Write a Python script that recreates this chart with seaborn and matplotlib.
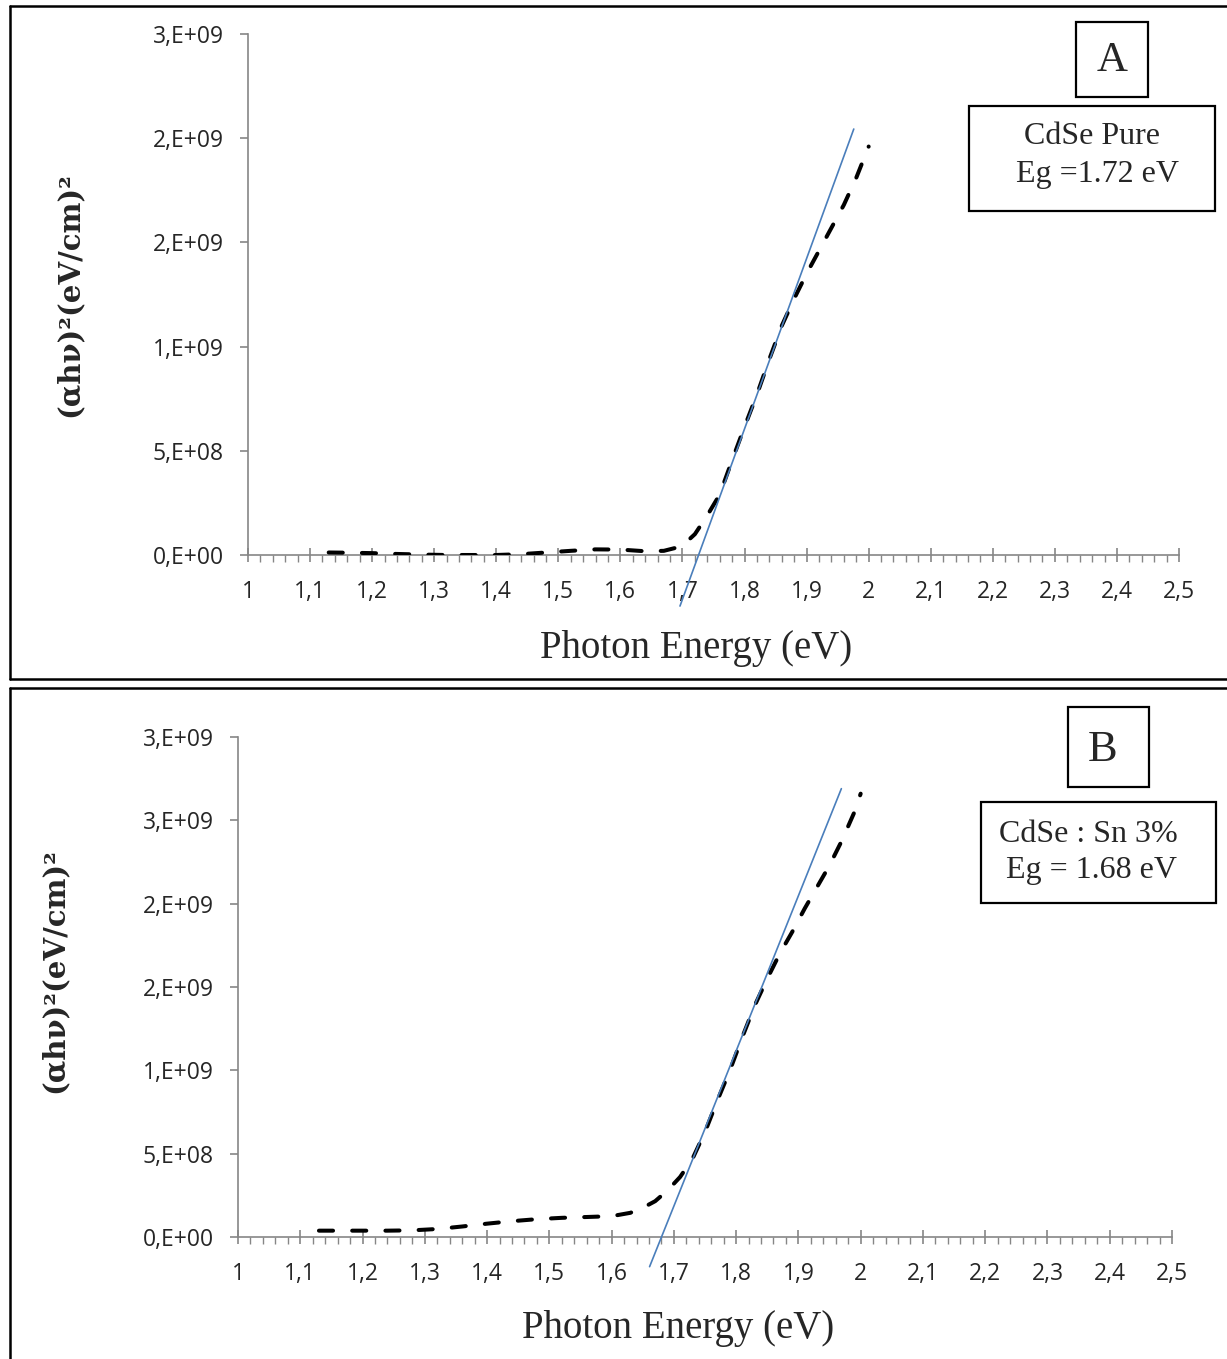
import matplotlib
matplotlib.use("Agg")
import matplotlib.pyplot as plt
import seaborn as sns
from matplotlib.lines import Line2D
from matplotlib.patches import Rectangle
from matplotlib.ticker import MultipleLocator

sns.set_style("ticks")
plt.rcParams['font.family'] = ['Open Sans', 'DejaVu Sans']

# --- data ---
# panel A : CdSe pure
energy_a = [1.13, 1.16, 1.20, 1.24, 1.28, 1.32, 1.36, 1.40, 1.44, 1.48, 1.52,
            1.56, 1.60, 1.64, 1.67, 1.69, 1.70, 1.72, 1.74, 1.76, 1.78, 1.80,
            1.82, 1.84, 1.86, 1.88, 1.90, 1.92, 1.94, 1.96, 1.98, 2.00]
absorb_a = [0.012, 0.011, 0.009, 0.005, 0.002, 0.0, 0.0, 0.0, 0.004, 0.012, 0.020,
            0.027, 0.026, 0.018, 0.020, 0.035, 0.045, 0.10, 0.19, 0.29, 0.455, 0.615,
            0.77, 0.94, 1.10, 1.23, 1.35, 1.46, 1.57, 1.68, 1.81, 1.96]
fit_x_a = [1.696, 1.976]
fit_y_a = [-0.245, 2.044]

# panel B : CdSe:Sn 3%
energy_b = [1.13, 1.16, 1.20, 1.24, 1.28, 1.32, 1.36, 1.40, 1.44, 1.48, 1.52,
            1.56, 1.60, 1.63, 1.65, 1.67, 1.69, 1.71, 1.73, 1.75, 1.77, 1.79,
            1.81, 1.83, 1.85, 1.87, 1.89, 1.91, 1.93, 1.95, 1.97, 1.99, 2.00]
absorb_b = [0.038, 0.038, 0.038, 0.038, 0.040, 0.048, 0.063, 0.080, 0.095, 0.107, 0.115,
            0.120, 0.125, 0.145, 0.175, 0.215, 0.28, 0.36, 0.47, 0.63, 0.82, 1.00,
            1.20, 1.39, 1.55, 1.70, 1.83, 1.97, 2.10, 2.23, 2.38, 2.55, 2.66]
fit_x_b = [1.661, 1.969]
fit_y_b = [-0.178, 2.69]

scale = 1e9  # values above are in units of 1e9

x_ticks = [1.0, 1.1, 1.2, 1.3, 1.4, 1.5, 1.6, 1.7, 1.8, 1.9, 2.0, 2.1, 2.2, 2.3, 2.4, 2.5]
x_labels = ['1', '1,1', '1,2', '1,3', '1,4', '1,5', '1,6', '1,7', '1,8', '1,9',
            '2', '2,1', '2,2', '2,3', '2,4', '2,5']
y_ticks_a = [0, 5e8, 1e9, 1.5e9, 2e9, 2.5e9]
y_labels_a = ['0,E+00', '5,E+08', '1,E+09', '2,E+09', '2,E+09', '3,E+09']
y_ticks_b = [0, 5e8, 1e9, 1.5e9, 2e9, 2.5e9, 3e9]
y_labels_b = ['0,E+00', '5,E+08', '1,E+09', '2,E+09', '2,E+09', '3,E+09', '3,E+09']

W, H = 1227, 1359
fig = plt.figure(figsize=(W / 100, H / 100), dpi=100)
fig.patch.set_facecolor('white')


def fx(px):
    return px / W


def fy(py):
    return 1 - py / H


SERIF = ['Liberation Serif', 'DejaVu Serif']
AXIS_GREY = '#868686'


def style_axis(ax, yticks, ylabels, ymax):
    ax.set_xlim(1, 2.5)
    ax.set_ylim(0, ymax)
    ax.set_xticks(x_ticks, x_labels)
    ax.xaxis.set_minor_locator(MultipleLocator(0.02))
    ax.set_yticks(yticks, ylabels)
    for s in ['top', 'right']:
        ax.spines[s].set_visible(False)
    for s in ['left', 'bottom']:
        ax.spines[s].set_color(AXIS_GREY)
        ax.spines[s].set_linewidth(1.2)
    ax.tick_params(axis='x', which='major', direction='inout', length=10, width=1.2,
                   color=AXIS_GREY, labelsize=16.5, pad=13)
    ax.tick_params(axis='x', which='minor', direction='out', length=5, width=1.0,
                   color=AXIS_GREY)
    ax.tick_params(axis='y', which='major', direction='out', length=6, width=1.2,
                   color=AXIS_GREY, labelsize=16.5, pad=11.5)
    ax.set_facecolor('white')


def draw_panel(ax, ex, ey, fx_, fy_):
    sns.lineplot(x=ex, y=[v * scale for v in ey], ax=ax, color='black', linewidth=2.9,
                 linestyle=(0, (3.5, 4.75)), dash_capstyle='round', sort=False,
                 errorbar=None, zorder=3)
    sns.lineplot(x=fx_, y=[v * scale for v in fy_], ax=ax, color='#4a7ebb', linewidth=1.2,
                 sort=False, errorbar=None, clip_on=False, zorder=4)


# panel A
axA = fig.add_axes([fx(248), fy(555), (1179 - 248) / W, (555 - 34) / H])
draw_panel(axA, energy_a, absorb_a, fit_x_a, fit_y_a)
style_axis(axA, y_ticks_a, y_labels_a, 2.5e9)
axA.set_xlabel('Photon Energy (eV)', family=SERIF, fontsize=28, va='baseline')
axA.xaxis.set_label_coords((696.5 - 248) / 931, (555 - 658) / 521)
axA.set_ylabel('(αhν)²(eV/cm)²', family=['DejaVu Serif'], fontweight='bold',
               fontsize=21, va='center')
axA.yaxis.set_label_coords((69 - 248) / 931, 0.5)

# panel B
axB = fig.add_axes([fx(238), fy(1237), (1172 - 238) / W, (1237 - 737) / H])
draw_panel(axB, energy_b, absorb_b, fit_x_b, fit_y_b)
style_axis(axB, y_ticks_b, y_labels_b, 3e9)
axB.set_xlabel('Photon Energy (eV)', family=SERIF, fontsize=28, va='baseline')
axB.xaxis.set_label_coords((678 - 238) / 934, (1237 - 1338) / 500)
axB.set_ylabel('(αhν)²(eV/cm)²', family=['DejaVu Serif'], fontweight='bold',
               fontsize=21, va='center')
axB.yaxis.set_label_coords((54 - 238) / 934, (1237 - 971) / 500)

# panel frames
frame = dict(color='black', linewidth=1.8, transform=fig.transFigure)
fig.add_artist(Line2D([fx(10), 1], [fy(6), fy(6)], **frame))
fig.add_artist(Line2D([fx(10), fx(10)], [fy(6), fy(679)], **frame))
fig.add_artist(Line2D([fx(10), 1], [fy(679), fy(679)], **frame))
fig.add_artist(Line2D([fx(10), 1], [fy(688), fy(688)], **frame))
fig.add_artist(Line2D([fx(10), fx(10)], [fy(688), 0], **frame))


def box(x0, y0, x1, y1):
    fig.add_artist(Rectangle((fx(x0), fy(y1)), (x1 - x0) / W, (y1 - y0) / H,
                             transform=fig.transFigure, fill=False,
                             edgecolor='black', linewidth=1.6))


# annotation boxes
box(1076, 22, 1148, 97)
fig.text(fx(1112), fy(71), 'A', ha='center', va='baseline', family=SERIF, fontsize=31)
box(969, 106, 1215, 211)
fig.text(fx(1092), fy(144), 'CdSe Pure', ha='center', va='baseline', family=SERIF, fontsize=23)
fig.text(fx(1097), fy(182), 'Eg =1.72 eV', ha='center', va='baseline', family=SERIF, fontsize=23)

box(1068, 707, 1149, 787)
fig.text(fx(1103), fy(761), 'B', ha='center', va='baseline', family=SERIF, fontsize=32)
box(981, 802, 1216, 903)
fig.text(fx(1088), fy(842), 'CdSe : Sn 3%', ha='center', va='baseline', family=SERIF, fontsize=23)
fig.text(fx(1091), fy(878), 'Eg = 1.68 eV', ha='center', va='baseline', family=SERIF, fontsize=23)

fig.savefig('out.png', dpi=100, facecolor='white')
